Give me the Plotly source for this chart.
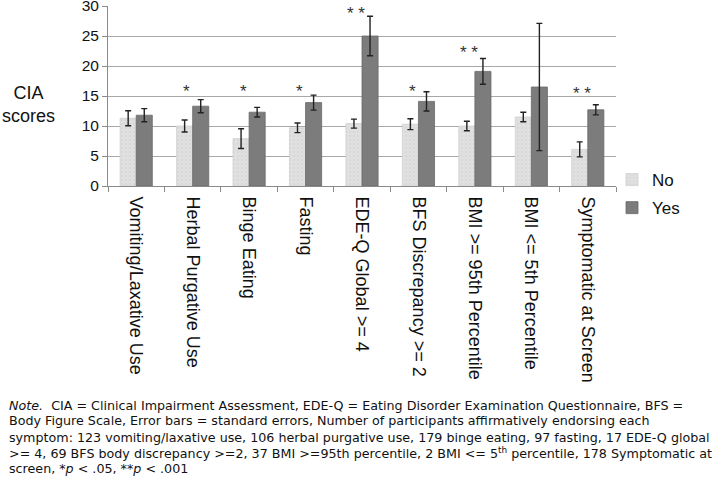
import plotly.graph_objects as go

categories = ["Vomiting/Laxative Use", "Herbal Purgative Use", "Binge Eating", "Fasting",
              "EDE-Q Global >= 4", "BFS Discrepancy >= 2", "BMI >= 95th Percentile",
              "BMI <= 5th Percentile", "Symptomatic at Screen"]
no_values = [11.3, 10.0, 7.9, 9.7, 10.4, 10.3, 10.0, 11.5, 6.1]
no_errors = [1.25, 1.0, 1.65, 0.8, 0.75, 0.9, 0.8, 0.8, 1.25]
yes_values = [11.8, 13.3, 12.3, 13.9, 25.0, 14.1, 19.1, 16.5, 12.7]
yes_errors = [1.1, 1.1, 0.8, 1.25, 3.3, 1.6, 2.15, 10.6, 0.85]
significance = ["", "*", "*", "*", "**", "*", "**", "", "**"]
star_heights = [0, 15.8, 15.8, 15.8, 28.7, 15.8, 22.2, 0, 15.5]
y_ticks = [0, 5, 10, 15, 20, 25, 30]
note_lines = [
    "<i>Note.</i>  CIA = Clinical Impairment Assessment, EDE-Q = Eating Disorder Examination Questionnaire, BFS =",
    "Body Figure Scale, Error bars = standard errors, Number of participants affirmatively endorsing each",
    "symptom: 123 vomiting/laxative use, 106 herbal purgative use, 179 binge eating, 97 fasting, 17 EDE-Q global",
    ">= 4, 69 BFS body discrepancy >=2, 37 BMI >=95th percentile, 2 BMI <= 5<sup>th</sup> percentile, 178 Symptomatic at",
    "screen, *<i>p</i> < .05, **<i>p</i> < .001",
]

FONT = "Liberation Sans, Arial, sans-serif"
NOTE_FONT = "DejaVu Sans, sans-serif"

# plot area in pixels
L, R, T, B = 108, 616, 6, 186
PW, PH = R - L, B - T

def px_x(x):
    return (x - L) / PW

def px_y(y):
    return (B - y) / PH

fig = go.Figure()
fig.add_trace(go.Bar(
    name="No", x=categories, y=no_values,
    marker=dict(color="#dedede", line=dict(color="#d0d0d0", width=0.8),
                pattern=dict(shape=".", fgcolor="#cfcfcf", bgcolor="#e0e0e0", size=4, solidity=0.25)),
    error_y=dict(type="data", array=no_errors, color="#222222", thickness=1.4, width=3),
    legendgroup="no",
))
fig.add_trace(go.Bar(
    name="Yes", x=categories, y=yes_values,
    marker=dict(color="#7c7c7c", line=dict(color="#6a6a6a", width=0.8)),
    error_y=dict(type="data", array=yes_errors, color="#222222", thickness=1.4, width=3),
    legendgroup="yes",
))

for cat, sig, h in zip(categories, significance, star_heights):
    if sig:
        fig.add_annotation(x=cat, y=h, text=sig.replace("*", "* ").strip(), showarrow=False,
                           xshift=-6, font=dict(size=17, color="#333333", family=FONT),
                           yanchor="middle")

fig.add_annotation(xref="paper", yref="paper", x=px_x(28), y=px_y(104), text="CIA<br>scores",
                   showarrow=False, align="center", font=dict(size=18, color="#111111", family=FONT),
                   xanchor="center", yanchor="middle")

for i, line in enumerate(note_lines):
    fig.add_annotation(xref="paper", yref="paper", x=px_x(7), y=px_y(405 + 16 * i), text=line,
                       showarrow=False, align="left", xanchor="left", yanchor="middle",
                       font=dict(size=12.7, color="#111111", family=NOTE_FONT))

fig.update_layout(
    width=716, height=484,
    margin=dict(l=L, r=716 - R, t=T, b=484 - B),
    paper_bgcolor="white", plot_bgcolor="white",
    barmode="group", bargap=0.43, bargroupgap=0,
    font=dict(family=FONT, color="#111111"),
    showlegend=True,
    legend=dict(x=px_x(612), y=px_y(162), xanchor="left", yanchor="top",
                font=dict(size=17, color="#111111"), itemwidth=30,
                tracegroupgap=3, bgcolor="rgba(0,0,0,0)"),
    xaxis=dict(tickangle=90, tickfont=dict(size=18, color="#111111"), showline=True, linecolor="#8a8a8a",
               linewidth=1, ticks="outside", tickson="boundaries", ticklen=5, tickcolor="#8a8a8a",
               showgrid=False, automargin=False, ticklabelstandoff=6),
    yaxis=dict(range=[0, 30], tickvals=y_ticks, tickfont=dict(size=15.5, color="#111111"), showline=True,
               linecolor="#8a8a8a", linewidth=1, ticks="outside", ticklen=5, tickcolor="#8a8a8a",
               showgrid=True, gridcolor="#a8a8a8", gridwidth=1, zeroline=False, automargin=False,
               ticklabeloverflow="allow"),
)

fig.write_html("out.html", config={"displayModeBar": False},
               post_script="document.body.style.margin='0';")
